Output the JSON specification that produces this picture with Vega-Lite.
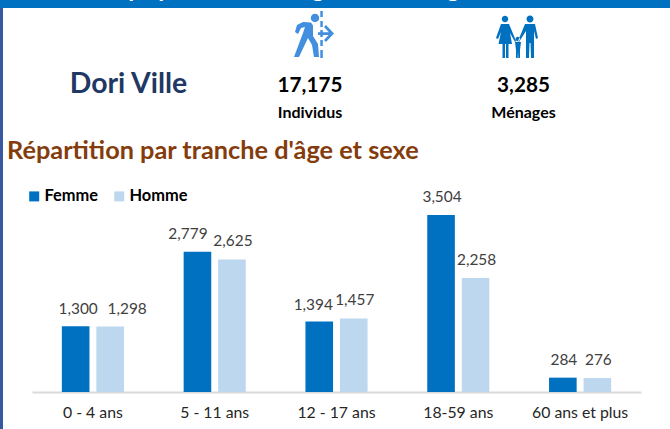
{
"$schema":"https://vega.github.io/schema/vega-lite/v6.json",
"padding":0,"background":"white",
"spacing":0,
"config":{"view":{"stroke":null},"font":"Lato"},
"datasets":{
"kpi":[
{"text":"Dori Ville","colonne":2,"ligne":4,"role":"nom"},
{"text":"17,175","colonne":5,"ligne":3,"role":"valeur"},
{"text":"Individus","colonne":5,"ligne":5,"role":"legende"},
{"text":"3,285","colonne":8,"ligne":3,"role":"valeur"},
{"text":"Ménages","colonne":8,"ligne":5,"role":"legende"},
{"text":"Répartition par tranche d'âge et sexe","colonne":1,"ligne":6,"role":"section"},
{"text":"p","colonne":3,"ligne":1,"role":"bandeau"},
{"text":"p","colonne":4,"ligne":1,"role":"bandeau"},
{"text":"g","colonne":6,"ligne":1,"role":"bandeau"},
{"text":"g","colonne":7,"ligne":1,"role":"bandeau"}
],
"icones":[{"colonne":5,"ligne":2,"icone":"individus"},{"colonne":8,"ligne":2,"icone":"menages"}],
"cadre":[{"colonne":0,"ligne":0}],
"age":[
{"tranche":"0 - 4 ans","sexe":"Femme","n":1300},{"tranche":"0 - 4 ans","sexe":"Homme","n":1298},
{"tranche":"5 - 11 ans","sexe":"Femme","n":2779},{"tranche":"5 - 11 ans","sexe":"Homme","n":2625},
{"tranche":"12 - 17 ans","sexe":"Femme","n":1394},{"tranche":"12 - 17 ans","sexe":"Homme","n":1457},
{"tranche":"18-59 ans","sexe":"Femme","n":3504},{"tranche":"18-59 ans","sexe":"Homme","n":2258},
{"tranche":"60 ans et plus","sexe":"Femme","n":284},{"tranche":"60 ans et plus","sexe":"Homme","n":276}
]},
"vconcat":[
{"width":670,"height":180,
"encoding":{
"x":{"field":"colonne","type":"quantitative","axis":null,"scale":{"domain":[0,1,2,3,4,5,6,7,8],"range":[1.5,7,128.5,135,165,310,318,453,523.5],"nice":false,"zero":false}},
"y":{"field":"ligne","type":"quantitative","axis":null,"scale":{"domain":[0,1,2,3,4,5,6],"range":[4,-3.5,35,92,92.5,118,159],"nice":false,"zero":false}}
},
"layer":[
{"data":{"name":"cadre"},"mark":{"type":"rule","clip":true,"color":"#3558A0","strokeWidth":3},"encoding":{"y":null}},
{"data":{"name":"cadre"},"mark":{"type":"rule","clip":true,"color":"#0070C0","strokeWidth":8},"encoding":{"x":null}},
{"data":{"name":"kpi"},"transform":[{"filter":"datum.role=='bandeau'"}],"mark":{"type":"text","clip":true,"fontWeight":"bold","fontSize":24,"color":"white","baseline":"alphabetic","align":"center"},"encoding":{"text":{"field":"text"}}},
{"data":{"name":"kpi"},"transform":[{"filter":"datum.role=='nom'"}],"mark":{"type":"text","fontWeight":"bold","fontSize":28.4,"color":"#1F3864","baseline":"alphabetic","align":"center"},"encoding":{"text":{"field":"text"}}},
{"data":{"name":"kpi"},"transform":[{"filter":"datum.role=='valeur'"}],"mark":{"type":"text","fontWeight":"bold","fontSize":20.7,"color":"black","baseline":"alphabetic","align":"center"},"encoding":{"text":{"field":"text"}}},
{"data":{"name":"kpi"},"transform":[{"filter":"datum.role=='legende'"}],"mark":{"type":"text","fontWeight":"bold","fontSize":16,"color":"black","baseline":"alphabetic","align":"center"},"encoding":{"text":{"field":"text"}}},
{"data":{"name":"kpi"},"transform":[{"filter":"datum.role=='section'"}],"mark":{"type":"text","fontWeight":"bold","fontSize":25.3,"color":"#843C0C","baseline":"alphabetic","align":"left"},"encoding":{"text":{"field":"text"}}},
{"data":{"name":"icones"},"transform":[{"filter":"datum.icone=='individus'"}],"mark":{"type":"point","filled":true,"opacity":1,"color":"#418FDE","size":2304,"xOffset":2,
"shape":"M-0.05,-0.708 a0.175,0.175 0 1,0 0.35,0 a0.175,0.175 0 1,0 -0.35,0 Z M-0.708,-0.125 L-0.625,-0.417 L-0.375,-0.542 L-0.042,-0.52 L0.042,-0.4 L0.042,0.042 L0.25,0.375 L0.292,0.917 L0.083,0.917 L0,0.417 L-0.167,0.125 L-0.542,0.917 L-0.75,0.917 L-0.375,-0.083 L-0.292,-0.333 L-0.458,-0.292 L-0.583,-0.042 Z M0.346,-1 H0.45 V-0.75 H0.346 Z M0.346,-0.583 H0.45 V-0.333 H0.346 Z M0.346,-0.208 H0.45 V0.083 H0.346 Z M0.346,0.208 H0.45 V0.458 H0.346 Z M0.346,0.625 H0.45 V0.958 H0.346 Z M0.25,-0.11 H0.79 V0 H0.25 Z M0.583,-0.417 L0.917,-0.0625 L0.583,0.292 L0.5,0.208 L0.75,-0.0625 L0.5,-0.333 Z"}},
{"data":{"name":"icones"},"transform":[{"filter":"datum.icone=='menages'"}],"mark":{"type":"point","filled":true,"opacity":1,"color":"#0070C0","size":2304,"xOffset":-5.5,
"shape":"M-0.677,-0.667 a0.135,0.135 0 1,0 0.27,0 a0.135,0.135 0 1,0 -0.27,0 Z M0.354,-0.667 a0.146,0.146 0 1,0 0.292,0 a0.146,0.146 0 1,0 -0.292,0 Z M-0.1,0.167 a0.09,0.09 0 1,0 0.18,0 a0.09,0.09 0 1,0 -0.18,0 Z M-0.708,-0.458 L-0.375,-0.458 L-0.167,0.042 L-0.083,0.25 L-0.125,0.292 L-0.333,-0.083 L-0.25,0.375 L-0.396,0.375 L-0.396,0.958 L-0.5,0.958 L-0.5,0.375 L-0.542,0.375 L-0.542,0.958 L-0.646,0.958 L-0.646,0.375 L-0.8125,0.375 L-0.708,-0.125 L-0.833,0.167 L-0.917,0.125 Z M0.292,-0.458 L0.708,-0.458 L0.833,0.125 L0.75,0.167 L0.667,-0.167 L0.667,0.958 L0.542,0.958 L0.521,0.333 L0.479,0.333 L0.458,0.958 L0.333,0.958 L0.333,-0.167 L0.042,0.292 L0,0.25 Z M-0.125,0.292 L0.125,0.292 L0.083,0.625 L0.083,0.958 L0.0125,0.958 L0,0.667 L-0.0125,0.958 L-0.083,0.958 L-0.083,0.625 Z"}}
]},
{"width":670,"height":249,
"resolve":{"scale":{"x":"independent"},"axis":{"x":"independent"}},
"layer":[
{"data":{"name":"cadre"},"mark":{"type":"rule","clip":true,"color":"#3558A0","strokeWidth":3},
"encoding":{"x":{"field":"colonne","type":"quantitative","axis":null,"scale":{"domain":[0,1],"range":[1.5,670],"nice":false,"zero":false}}}},
{"data":{"name":"age"},
"encoding":{
"x":{"field":"tranche","type":"nominal","sort":null,"scale":{"type":"band","range":[32,641],"paddingInner":0,"paddingOuter":0},"axis":{"title":null,"offset":-37,"labelAngle":0,"labelFont":"Lato","labelFontSize":15.8,"labelColor":"#262626","labelPadding":13,"ticks":false,"domainColor":"#D9D9D9","domainWidth":2}},
"xOffset":{"field":"sexe","type":"nominal","scale":{"paddingInner":0.2,"paddingOuter":0.865}},
"y":{"field":"n","type":"quantitative","scale":{"domain":[0,4197],"range":[212,0],"nice":false},"axis":null},
"text":{"field":"n","type":"quantitative","format":","}
},
"layer":[
{"mark":{"type":"bar"},"encoding":{"text":null,
"color":{"field":"sexe","type":"nominal","scale":{"domain":["Femme","Homme"],"range":["#0070C0","#BDD7EE"]},"legend":{"title":null,"orient":"none","legendX":26,"legendY":188,"direction":"horizontal","symbolType":"square","symbolSize":100,"symbolOpacity":1,"labelFont":"Lato","labelFontSize":16.4,"labelFontWeight":"bold","labelColor":"black","labelOffset":2,"columnPadding":13}}}},
{"transform":[{"filter":"datum.n==1298"}],"mark":{"type":"text","fontSize":15.4,"color":"#404040","baseline":"alphabetic","dy":-12,"dx":17}},
{"transform":[{"filter":"datum.n==1300"}],"mark":{"type":"text","fontSize":15.4,"color":"#404040","baseline":"alphabetic","dy":-12,"dx":2.5}},
{"transform":[{"filter":"datum.n==2779"}],"mark":{"type":"text","fontSize":15.4,"color":"#404040","baseline":"alphabetic","dy":-13,"dx":-9.5}},
{"transform":[{"filter":"datum.n==1394"}],"mark":{"type":"text","fontSize":15.4,"color":"#404040","baseline":"alphabetic","dy":-12,"dx":-6}},
{"transform":[{"filter":"datum.n!=1298 && datum.n!=1300 && datum.n!=2779 && datum.n!=1394"}],"mark":{"type":"text","fontSize":15.4,"color":"#404040","baseline":"alphabetic","dy":-13,"dx":1}}
]}
]}
]}
